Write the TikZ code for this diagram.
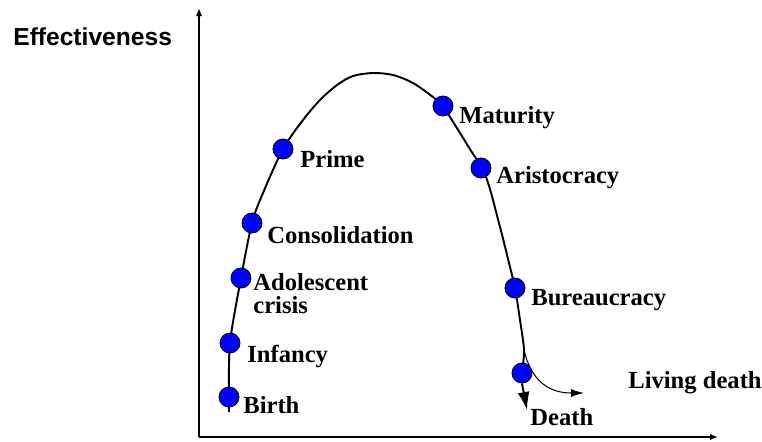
\documentclass[tikz,border=0pt]{standalone}
\usepackage{fontspec}
\setmainfont{Liberation Serif}
\newfontfamily\axisfont{Liberation Sans}
\usetikzlibrary{arrows.meta}

\tikzset{
  stage/.style={draw, circle, fill=blue, minimum size=0.4cm, inner sep=0pt, line width=0.5pt},
  stagelabel/.style={anchor=base west, inner sep=0pt, align=left, font=\fontsize{14}{12.6}\selectfont\bfseries},
  axis/.style={line width=1.1pt, -{Latex[length=1.6mm,width=1.3mm]}}
}

\begin{document}
\begin{tikzpicture}[x=0.02cm, y=-0.02cm]
\useasboundingbox (0,0) rectangle (762,441);

% Axes
\coordinate (origin) at (199,437);
\coordinate (ytip) at (199,8);
\coordinate (xtip) at (718,437);
\draw[axis] (origin) -- (ytip);
\draw[axis] (origin) -- (xtip);
\node[anchor=base west, inner sep=0pt, font=\axisfont\fontsize{14}{16}\selectfont\bfseries] (ylabel) at (13,45) {Effectiveness};

% Stages on the curve
\coordinate (start) at (229,412);
\coordinate (birth) at (229,397);
\coordinate (infancy) at (230,343);
\coordinate (adolescent) at (241,278);
\coordinate (consolidation) at (252,223);
\coordinate (prime) at (283,149);
\coordinate (peak) at (373,73);
\coordinate (maturity) at (443,106);
\coordinate (aristocracy) at (481,168);
\coordinate (bureaucracy) at (515,288);
\coordinate (fork) at (524,350);
\coordinate (death) at (522,373);

% Life cycle curve
\draw[line width=1.1pt] plot[smooth, tension=0.5] coordinates {(start) (birth) (infancy) (adolescent) (consolidation) (263,193) (prime) (303,120) (320,100) (337,85) (353,76) (peak) (393,75) (413,83) (433,97) (maturity) (450,117) (468,146) (486,177) (500,227) (510,267) (bureaucracy) (520,320) (fork) (death)};

% Endings
\coordinate (deathtip) at (527,410);
\coordinate (livingtip) at (584,393);
\draw[line width=0.6pt, -{Latex[length=2.6mm,width=1.6mm]}] (fork) .. controls (531,380) and (548,393) .. (livingtip);

\node[stage] (birth dot) at (birth) {};
\node[stage] (infancy dot) at (infancy) {};
\node[stage] (adolescent dot) at (adolescent) {};
\node[stage] (consolidation dot) at (consolidation) {};
\node[stage] (prime dot) at (prime) {};
\node[stage] (maturity dot) at (maturity) {};
\node[stage] (aristocracy dot) at (aristocracy) {};
\node[stage] (bureaucracy dot) at (bureaucracy) {};
\node[stage] (death dot) at (death) {};

\draw[line width=1.1pt, -{Latex[length=3.6mm,width=2.4mm]}] (death dot.south) -- (deathtip);

% Stage names
\node[stagelabel] (birth label) at (243,413) {Birth};
\node[stagelabel] (infancy label) at (247,362) {Infancy};
\node[stagelabel] (adolescent label) at (253,313) {Adolescent\\crisis};
\node[stagelabel] (consolidation label) at (267,243) {Consolidation};
\node[stagelabel] (prime label) at (300,167) {Prime};
\node[stagelabel] (maturity label) at (459,123) {Maturity};
\node[stagelabel] (aristocracy label) at (496,183) {Aristocracy};
\node[stagelabel] (bureaucracy label) at (531,305) {Bureaucracy};
\node[stagelabel] (death label) at (530,425) {Death};
\node[stagelabel] (living label) at (628,388) {Living death};
\end{tikzpicture}
\end{document}
